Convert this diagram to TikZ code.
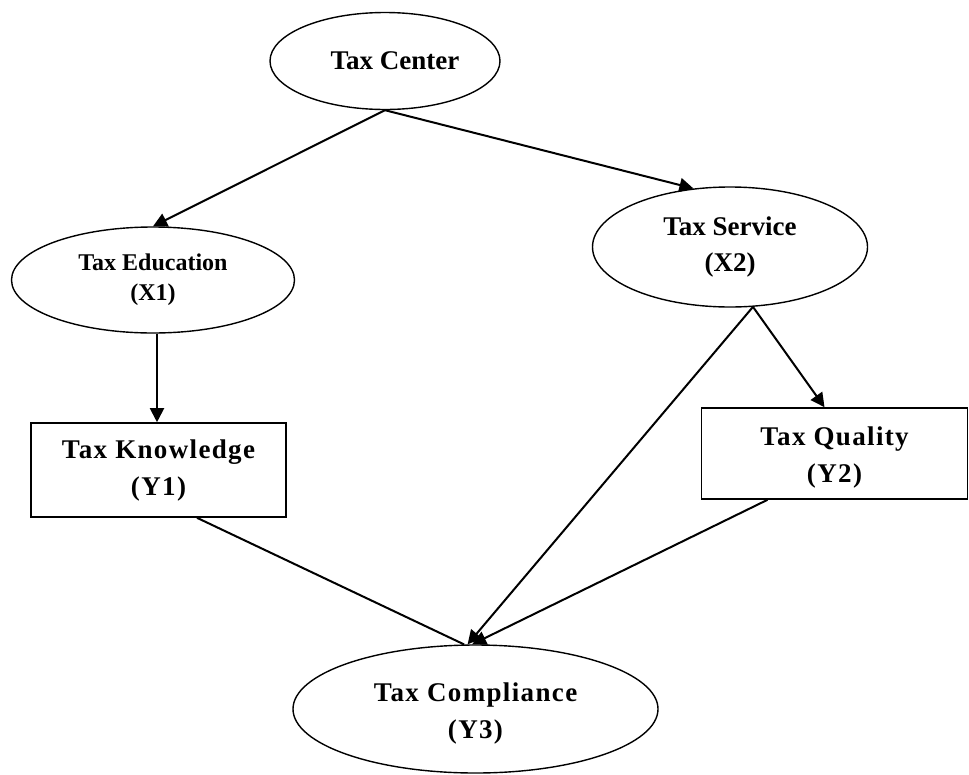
\documentclass[tikz,border=0pt]{standalone}
\usepackage{fontspec}
\setmainfont{Liberation Serif}
\usetikzlibrary{shapes.geometric,arrows.meta}
\begin{document}
\begin{tikzpicture}[x=1pt,y=-1pt,
  ell/.style={draw=black,line width=1.4pt,ellipse,inner sep=0pt,align=center,
    font=\bfseries\fontsize{27}{36}\selectfont},
  box/.style={draw=black,line width=1.6pt,rectangle,inner sep=0pt,align=center,
    font=\bfseries\fontsize{27}{37}\selectfont\addfontfeature{LetterSpace=5}},
  arr/.style={line width=2pt,-{Triangle[length=14pt,width=14pt]}},
  plain/.style={line width=2pt}]
\useasboundingbox (0,0) rectangle (969,774);
\node[ell,minimum width=230pt,minimum height=97pt] (TC) at (385,61) {\hspace*{20pt}Tax Center};
\node[ell,minimum width=283pt,minimum height=106pt,font=\bfseries\fontsize{24}{30}\selectfont] (TE) at (153,280) {Tax Education\\(X1)};
\node[ell,minimum width=275pt,minimum height=120pt] (TS) at (730,247) {Tax Service\\(X2)};
\node[box,minimum width=255pt,minimum height=94pt] (TK) at (158.5,470) {Tax Knowledge\\(Y1)};
\node[box,minimum width=266pt,minimum height=91pt] (TQ) at (834.5,453.5) {\rule{0pt}{26pt}Tax Quality\\(Y2)};
\node[ell,minimum width=365pt,minimum height=128pt,font=\bfseries\fontsize{27}{37}\selectfont\addfontfeature{LetterSpace=5}] (TY) at (475.5,709) {\rule{0pt}{28pt}Tax Compliance\\(Y3)};

\draw[arr] (TC.south) -- (TE.north);
\draw[arr] (TC.south) -- (TS.122);
\draw[arr] ([xshift=4pt]TE.south) -- ([xshift=-1.5pt]TK.north);
\draw[arr] (TS.291) -- ([xshift=-10pt]TQ.north);
\draw[arr] (TS.291) -- (TY.97);
\draw[arr] ([xshift=-67pt]TQ.south) -- (TY.93);
\draw[plain] ([xshift=38.5pt]TK.south) -- (TY.100);
\end{tikzpicture}
\end{document}
